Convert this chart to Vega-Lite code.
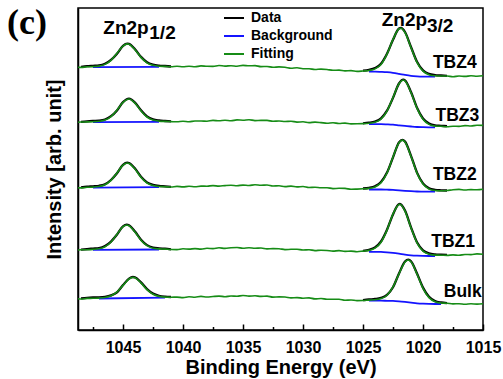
{
  "$schema": "https://vega.github.io/schema/vega-lite/v6.json",
  "width": 405,
  "height": 322,
  "autosize": {"type": "none"},
  "padding": {"left": 78, "top": 8, "right": 20, "bottom": 49},
  "background": "white",
  "config": {
    "view": {"stroke": "#000", "strokeWidth": 1.5},
    "font": "Liberation Sans",
    "axis": {"grid": false, "domainColor": "#000", "domainWidth": 1.5, "tickColor": "#000", "labelColor": "#000", "titleColor": "#000", "labelFont": "Liberation Sans", "titleFont": "Liberation Sans", "labelFontWeight": "bold", "titleFontWeight": "bold"},
    "legend": {"symbolType": "stroke", "symbolSize": 400, "symbolStrokeWidth": 2, "labelFontSize": 14, "labelFontWeight": "bold", "labelFont": "Liberation Sans", "labelColor": "#000", "labelOffset": 6, "rowPadding": 0, "padding": 0}
  },
  "datasets": {
    "fit": [
      {"e":1048.75,"TBZ4":262.8,"TBZ3":207.8,"TBZ2":142.3,"TBZ1":80.0,"Bulk":31.2},
      {"e":1048.5,"TBZ4":262.6,"TBZ3":208.0,"TBZ2":142.1,"TBZ1":80.2,"Bulk":31.0},
      {"e":1048,"TBZ4":263.2,"TBZ3":208.1,"TBZ2":142.7,"TBZ1":80.3,"Bulk":31.6},
      {"e":1047.5,"TBZ4":263.4,"TBZ3":208.3,"TBZ2":142.9,"TBZ1":80.6,"Bulk":31.7},
      {"e":1047,"TBZ4":263.9,"TBZ3":208.7,"TBZ2":143.5,"TBZ1":81.2,"Bulk":31.9},
      {"e":1046.5,"TBZ4":265.6,"TBZ3":209.9,"TBZ2":145.2,"TBZ1":83.3,"Bulk":32.5},
      {"e":1046,"TBZ4":269.7,"TBZ3":213.4,"TBZ2":149.6,"TBZ1":88.0,"Bulk":34.2},
      {"e":1045.5,"TBZ4":276.7,"TBZ3":220.0,"TBZ2":157.1,"TBZ1":95.8,"Bulk":38.1},
      {"e":1045,"TBZ4":283.9,"TBZ3":227.6,"TBZ2":164.8,"TBZ1":103.3,"Bulk":44.6},
      {"e":1044.69,"TBZ1":105.0},
      {"e":1044.64,"TBZ4":286.1,"TBZ2":167.0},
      {"e":1044.5,"TBZ4":285.7,"TBZ3":231.0,"TBZ2":166.6,"TBZ1":104.3,"Bulk":51.0},
      {"e":1044.17,"Bulk":52.7},
      {"e":1044,"TBZ4":280.3,"TBZ3":226.9,"TBZ2":160.9,"TBZ1":97.9,"Bulk":52.2},
      {"e":1043.5,"TBZ4":272.6,"TBZ3":219.2,"TBZ2":152.8,"TBZ1":89.8,"Bulk":47.1},
      {"e":1043,"TBZ4":267.2,"TBZ3":213.0,"TBZ2":147.0,"TBZ1":84.3,"Bulk":40.3},
      {"e":1042.5,"TBZ4":264.7,"TBZ3":209.9,"TBZ2":144.5,"TBZ1":81.8,"Bulk":35.7},
      {"e":1042,"TBZ4":263.8,"TBZ3":208.9,"TBZ2":143.5,"TBZ1":81.1,"Bulk":33.6},
      {"e":1041.5,"TBZ4":263.6,"TBZ3":208.6,"TBZ2":143.3,"TBZ1":80.9,"Bulk":32.9},
      {"e":1041,"TBZ4":263.3,"TBZ3":208.4,"TBZ2":143.0,"TBZ1":80.5,"Bulk":32.8},
      {"e":1040.5,"TBZ4":263.7,"TBZ3":208.2,"TBZ2":143.6,"TBZ1":80.4,"Bulk":32.9},
      {"e":1040,"TBZ4":263.2,"TBZ3":208.8,"TBZ2":143.1,"TBZ1":81.2,"Bulk":32.4},
      {"e":1039.5,"TBZ4":263.8,"TBZ3":208.2,"TBZ2":143.7,"TBZ1":80.9,"Bulk":33.2},
      {"e":1039,"TBZ4":263.2,"TBZ3":209.0,"TBZ2":143.2,"TBZ1":81.4,"Bulk":32.8},
      {"e":1038.5,"TBZ4":264.1,"TBZ3":209.0,"TBZ2":143.9,"TBZ1":80.9,"Bulk":33.6},
      {"e":1038,"TBZ4":263.7,"TBZ3":208.8,"TBZ2":143.8,"TBZ1":81.7,"Bulk":33.0},
      {"e":1037.5,"TBZ4":263.6,"TBZ3":209.6,"TBZ2":144.4,"TBZ1":81.4,"Bulk":33.5},
      {"e":1037,"TBZ4":264.5,"TBZ3":209.2,"TBZ2":143.9,"TBZ1":82.2,"Bulk":33.9},
      {"e":1036.5,"TBZ4":263.9,"TBZ3":209.7,"TBZ2":144.4,"TBZ1":81.6,"Bulk":33.3},
      {"e":1036,"TBZ4":264.3,"TBZ3":209.2,"TBZ2":144.7,"TBZ1":82.2,"Bulk":34.0},
      {"e":1035.5,"TBZ4":263.8,"TBZ3":210.1,"TBZ2":144.3,"TBZ1":82.5,"Bulk":33.8},
      {"e":1035,"TBZ4":264.6,"TBZ3":209.8,"TBZ2":144.9,"TBZ1":81.8,"Bulk":34.5},
      {"e":1034.5,"TBZ4":264.2,"TBZ3":210.3,"TBZ2":144.5,"TBZ1":82.2,"Bulk":33.9},
      {"e":1034,"TBZ4":264.4,"TBZ3":209.4,"TBZ2":145.3,"TBZ1":81.7,"Bulk":34.2},
      {"e":1033.5,"TBZ4":263.4,"TBZ3":209.6,"TBZ2":144.7,"TBZ1":82.0,"Bulk":33.6},
      {"e":1033,"TBZ4":263.5,"TBZ3":209.6,"TBZ2":145.0,"TBZ1":81.1,"Bulk":33.9},
      {"e":1032.5,"TBZ4":262.7,"TBZ3":208.7,"TBZ2":144.0,"TBZ1":81.4,"Bulk":32.9},
      {"e":1032,"TBZ4":263.1,"TBZ3":209.0,"TBZ2":144.2,"TBZ1":81.3,"Bulk":33.1},
      {"e":1031.5,"TBZ4":262.7,"TBZ3":208.5,"TBZ2":143.4,"TBZ1":80.4,"Bulk":33.0},
      {"e":1031,"TBZ4":261.8,"TBZ3":208.8,"TBZ2":143.9,"TBZ1":80.7,"Bulk":32.1},
      {"e":1030.5,"TBZ4":262.2,"TBZ3":207.9,"TBZ2":143.1,"TBZ1":80.8,"Bulk":32.4},
      {"e":1030,"TBZ4":261.3,"TBZ3":208.2,"TBZ2":143.5,"TBZ1":80.0,"Bulk":31.8},
      {"e":1029.5,"TBZ4":261.3,"TBZ3":207.4,"TBZ2":142.5,"TBZ1":80.3,"Bulk":32.1},
      {"e":1029,"TBZ4":260.5,"TBZ3":207.9,"TBZ2":142.7,"TBZ1":79.4,"Bulk":31.1},
      {"e":1028.5,"TBZ4":260.9,"TBZ3":207.4,"TBZ2":142.2,"TBZ1":79.8,"Bulk":31.5},
      {"e":1028,"TBZ4":260.5,"TBZ3":206.7,"TBZ2":142.3,"TBZ1":79.5,"Bulk":30.7},
      {"e":1027.5,"TBZ4":259.7,"TBZ3":207.2,"TBZ2":141.4,"TBZ1":78.9,"Bulk":30.7},
      {"e":1027,"TBZ4":259.9,"TBZ3":206.5,"TBZ2":141.7,"TBZ1":79.4,"Bulk":30.8},
      {"e":1026.5,"TBZ4":259.1,"TBZ3":206.9,"TBZ2":141.6,"TBZ1":78.6,"Bulk":29.8},
      {"e":1026,"TBZ4":259.4,"TBZ3":206.1,"TBZ2":140.7,"TBZ1":78.9,"Bulk":30.0},
      {"e":1025.5,"TBZ4":258.6,"TBZ3":206.2,"TBZ2":140.9,"TBZ1":78.3,"Bulk":29.4},
      {"e":1025,"TBZ4":259.0,"TBZ3":206.4,"TBZ2":141.2,"TBZ1":78.9,"Bulk":29.5},
      {"e":1024.5,"TBZ4":259.5,"TBZ3":206.7,"TBZ2":141.6,"TBZ1":79.6,"Bulk":29.9},
      {"e":1024,"TBZ4":261.1,"TBZ3":207.7,"TBZ2":143.0,"TBZ1":81.8,"Bulk":30.2},
      {"e":1023.5,"TBZ4":265.6,"TBZ3":210.9,"TBZ2":147.2,"TBZ1":87.8,"Bulk":31.4},
      {"e":1023,"TBZ4":275.9,"TBZ3":218.9,"TBZ2":157.0,"TBZ1":99.9,"Bulk":34.8},
      {"e":1022.5,"TBZ4":290.6,"TBZ3":232.5,"TBZ2":173.0,"TBZ1":116.0,"Bulk":43.1},
      {"e":1022,"TBZ4":301.2,"TBZ3":246.2,"TBZ2":187.3,"TBZ1":125.5,"Bulk":56.2},
      {"e":1021.92,"TBZ1":125.7},
      {"e":1021.83,"TBZ4":301.8},
      {"e":1021.72,"TBZ2":189.9},
      {"e":1021.64,"TBZ3":250.0},
      {"e":1021.5,"TBZ4":297.5,"TBZ3":249.1,"TBZ2":187.9,"TBZ1":118.9,"Bulk":68.0},
      {"e":1021.22,"Bulk":70.0},
      {"e":1021,"TBZ4":282.5,"TBZ3":237.5,"TBZ2":173.7,"TBZ1":102.2,"Bulk":68.2},
      {"e":1020.5,"TBZ4":267.7,"TBZ3":221.8,"TBZ2":156.9,"TBZ1":87.2,"Bulk":56.0},
      {"e":1020,"TBZ4":258.9,"TBZ3":210.8,"TBZ2":145.9,"TBZ1":78.9,"Bulk":41.7},
      {"e":1019.5,"TBZ4":255.3,"TBZ3":205.6,"TBZ2":141.0,"TBZ1":75.8,"Bulk":32.4},
      {"e":1019,"TBZ4":254.2,"TBZ3":203.9,"TBZ2":139.5,"TBZ1":74.9,"Bulk":28.3},
      {"e":1018.5,"TBZ4":254.0,"TBZ3":203.7,"TBZ2":139.2,"TBZ1":74.8,"Bulk":27.0},
      {"e":1018,"TBZ4":254.0,"TBZ3":203.3,"TBZ2":139.5,"TBZ1":74.6,"Bulk":26.8},
      {"e":1017.5,"TBZ4":253.3,"TBZ3":203.8,"TBZ2":140.3,"TBZ1":75.1,"Bulk":26.1},
      {"e":1017,"TBZ4":254.0,"TBZ3":203.6,"TBZ2":140.6,"TBZ1":74.7,"Bulk":26.3},
      {"e":1016.5,"TBZ4":253.6,"TBZ3":204.4,"TBZ2":140.0,"TBZ1":75.5,"Bulk":25.7},
      {"e":1016,"TBZ4":254.2,"TBZ3":204.0,"TBZ2":140.4,"TBZ1":75.4,"Bulk":26.2},
      {"e":1015.5,"TBZ4":253.8,"TBZ3":204.8,"TBZ2":140.2,"TBZ1":76.1,"Bulk":25.9},
      {"e":1015,"TBZ4":254.2,"TBZ3":204.6,"TBZ2":140.7,"TBZ1":75.8,"Bulk":26.2}
    ],
    "data": [
      {"e":1048.5,"g":"L","TBZ4":263.1,"TBZ3":208.1,"TBZ2":142.6,"TBZ1":80.3,"Bulk":31.6},
      {"e":1048,"g":"L","TBZ4":263.8,"TBZ3":208.7,"TBZ2":143.3,"TBZ1":80.9,"Bulk":32.2},
      {"e":1047.5,"g":"L","TBZ4":264.2,"TBZ3":209.1,"TBZ2":143.7,"TBZ1":81.4,"Bulk":32.5},
      {"e":1047,"g":"L","TBZ4":264.6,"TBZ3":209.4,"TBZ2":144.2,"TBZ1":81.9,"Bulk":32.6},
      {"e":1046.5,"g":"L","TBZ4":266.2,"TBZ3":210.5,"TBZ2":145.8,"TBZ1":83.9,"Bulk":33.1},
      {"e":1046,"g":"L","TBZ4":270.1,"TBZ3":213.8,"TBZ2":150.0,"TBZ1":88.4,"Bulk":34.6},
      {"e":1045.5,"g":"L","TBZ4":276.3,"TBZ3":219.6,"TBZ2":156.7,"TBZ1":95.4,"Bulk":37.7},
      {"e":1045,"g":"L","TBZ4":284.2,"TBZ3":227.9,"TBZ2":165.1,"TBZ1":103.6,"Bulk":44.9},
      {"e":1044.69,"g":"L","TBZ1":105.3},
      {"e":1044.64,"g":"L","TBZ4":286.4,"TBZ2":167.3},
      {"e":1044.5,"g":"L","TBZ4":286.1,"TBZ3":231.4,"TBZ2":167.0,"TBZ1":104.7,"Bulk":51.4},
      {"e":1044.17,"g":"L","Bulk":53.0},
      {"e":1044,"g":"L","TBZ4":280.8,"TBZ3":227.4,"TBZ2":161.4,"TBZ1":98.4,"Bulk":52.7},
      {"e":1043.5,"g":"L","TBZ4":273.1,"TBZ3":219.7,"TBZ2":153.3,"TBZ1":90.3,"Bulk":47.6},
      {"e":1043,"g":"L","TBZ4":267.8,"TBZ3":213.6,"TBZ2":147.6,"TBZ1":84.9,"Bulk":40.9},
      {"e":1042.5,"g":"L","TBZ4":265.4,"TBZ3":210.6,"TBZ2":145.2,"TBZ1":82.5,"Bulk":36.4},
      {"e":1042,"g":"L","TBZ4":264.4,"TBZ3":209.5,"TBZ2":144.1,"TBZ1":81.7,"Bulk":34.2},
      {"e":1041.5,"g":"L","TBZ4":264.0,"TBZ3":209.0,"TBZ2":143.7,"TBZ1":81.3,"Bulk":33.3},
      {"e":1041,"g":"L","TBZ4":263.5,"TBZ3":208.6,"TBZ2":143.2,"TBZ1":80.7,"Bulk":33.0},
      {"e":1025,"g":"R","TBZ4":259.3,"TBZ3":206.7,"TBZ2":141.5,"TBZ1":79.2,"Bulk":29.8},
      {"e":1024.5,"g":"R","TBZ4":260.1,"TBZ3":207.3,"TBZ2":142.2,"TBZ1":80.2,"Bulk":30.5},
      {"e":1024,"g":"R","TBZ4":261.9,"TBZ3":208.5,"TBZ2":143.8,"TBZ1":82.6,"Bulk":31.0},
      {"e":1023.5,"g":"R","TBZ4":266.3,"TBZ3":211.6,"TBZ2":147.9,"TBZ1":88.5,"Bulk":32.1},
      {"e":1023,"g":"R","TBZ4":276.3,"TBZ3":219.3,"TBZ2":157.4,"TBZ1":100.3,"Bulk":35.2},
      {"e":1022.5,"g":"R","TBZ4":290.2,"TBZ3":232.1,"TBZ2":172.6,"TBZ1":115.6,"Bulk":42.7},
      {"e":1022,"g":"R","TBZ4":301.5,"TBZ3":246.5,"TBZ2":187.6,"TBZ1":125.9,"Bulk":56.5},
      {"e":1021.92,"g":"R","TBZ1":126.0},
      {"e":1021.83,"g":"R","TBZ4":302.1},
      {"e":1021.72,"g":"R","TBZ2":190.2},
      {"e":1021.64,"g":"R","TBZ3":250.3},
      {"e":1021.5,"g":"R","TBZ4":298.0,"TBZ3":249.6,"TBZ2":188.4,"TBZ1":119.4,"Bulk":68.5},
      {"e":1021.22,"g":"R","Bulk":70.3},
      {"e":1021,"g":"R","TBZ4":283.0,"TBZ3":238.0,"TBZ2":174.2,"TBZ1":102.7,"Bulk":68.7},
      {"e":1020.5,"g":"R","TBZ4":268.2,"TBZ3":222.3,"TBZ2":157.4,"TBZ1":87.7,"Bulk":56.5},
      {"e":1020,"g":"R","TBZ4":259.6,"TBZ3":211.5,"TBZ2":146.6,"TBZ1":79.6,"Bulk":42.4},
      {"e":1019.5,"g":"R","TBZ4":256.1,"TBZ3":206.4,"TBZ2":141.8,"TBZ1":76.6,"Bulk":33.2},
      {"e":1019,"g":"R","TBZ4":254.9,"TBZ3":204.6,"TBZ2":140.2,"TBZ1":75.6,"Bulk":29.0},
      {"e":1018.5,"g":"R","TBZ4":254.5,"TBZ3":204.2,"TBZ2":139.7,"TBZ1":75.3,"Bulk":27.5},
      {"e":1018,"g":"R","TBZ4":254.1,"TBZ3":203.8,"TBZ2":139.5,"TBZ1":75.1,"Bulk":26.8}
    ],
    "bg": [
      {"e":1047.5,"g":"L","TBZ4":262.9,"TBZ3":207.9,"TBZ2":142.4,"TBZ1":80.1},
      {"e":1047,"g":"L","Bulk":31.5},
      {"e":1042,"g":"L","TBZ4":263.2,"TBZ3":208.2,"TBZ2":142.9,"TBZ1":80.5},
      {"e":1041.5,"g":"L","Bulk":32.4},
      {"e":1024.5,"g":"R","TBZ4":258.3,"TBZ3":205.8,"TBZ2":140.5,"TBZ1":78.2,"Bulk":29.3},
      {"e":1024,"g":"R","TBZ4":258.3,"TBZ3":205.8,"TBZ2":140.5,"TBZ1":78.2,"Bulk":29.3},
      {"e":1023.5,"g":"R","TBZ4":258.1,"TBZ3":205.8,"TBZ2":140.5,"TBZ1":78.1,"Bulk":29.3},
      {"e":1023,"g":"R","TBZ4":257.8,"TBZ3":205.6,"TBZ2":140.3,"TBZ1":77.7,"Bulk":29.2},
      {"e":1022.5,"g":"R","TBZ4":257.2,"TBZ3":205.3,"TBZ2":140.1,"TBZ1":77.1,"Bulk":29.1},
      {"e":1022,"g":"R","TBZ4":256.2,"TBZ3":204.7,"TBZ2":139.7,"TBZ1":76.3,"Bulk":28.7},
      {"e":1021.5,"g":"R","TBZ4":255.1,"TBZ3":204.1,"TBZ2":139.2,"TBZ1":75.4,"Bulk":28.1},
      {"e":1021,"g":"R","TBZ4":254.2,"TBZ3":203.5,"TBZ2":138.8,"TBZ1":74.7,"Bulk":27.4},
      {"e":1020.5,"g":"R","TBZ4":253.7,"TBZ3":203.0,"TBZ2":138.5,"TBZ1":74.3,"Bulk":26.7},
      {"e":1020,"g":"R","TBZ4":253.4,"TBZ3":202.8,"TBZ2":138.4,"TBZ1":74.1,"Bulk":26.3},
      {"e":1019.5,"g":"R","TBZ4":253.3,"TBZ3":202.7,"TBZ2":138.3,"TBZ1":74.0,"Bulk":26.1},
      {"e":1019,"g":"R","TBZ4":253.3,"TBZ3":202.7,"TBZ2":138.3,"TBZ1":74.0,"Bulk":26.0},
      {"e":1018.5,"g":"R","Bulk":26.0}
    ],
    "names": [
      {"e":1015.53,"v":261.7,"txt":"TBZ4"},
      {"e":1015.31,"v":209.3,"txt":"TBZ3"},
      {"e":1015.53,"v":150.0,"txt":"TBZ2"},
      {"e":1015.67,"v":83.3,"txt":"TBZ1"},
      {"e":1015.11,"v":33.3,"txt":"Bulk"}
    ],
    "peaks": [
      {"e":1046.64,"v":296.5,"txt":"Zn2p"},
      {"e":1042.81,"v":290.7,"txt":"1/2"},
      {"e":1023.44,"v":304.0,"txt":"Zn2p"},
      {"e":1019.67,"v":298.3,"txt":"3/2"}
    ],
    "panel": [
      {"e":1053.0,"v":296.5,"txt":"(c)"}
    ]
  },
  "encoding": {
    "x": {
      "field": "e", "type": "quantitative",
      "scale": {"domain": [1015, 1048.75], "reverse": true, "nice": false, "zero": false},
      "axis": {
        "title": "Binding Energy (eV)",
        "values": [1047.5, 1045, 1042.5, 1040, 1037.5, 1035, 1032.5, 1030, 1027.5, 1025, 1022.5, 1020, 1017.5, 1015],
        "labelExpr": "datum.value % 5 == 0 ? format(datum.value, 'd') : ''",
        "tickSize": {"condition": {"test": "datum.value % 5 == 0", "value": -6}, "value": -3.5},
        "tickWidth": 1.5,
        "labelFontSize": 16,
        "labelPadding": 15,
        "labelFlush": false,
        "labelOverlap": false,
        "titleFontSize": 20,
        "titlePadding": 0
      }
    },
    "y": {
      "field": "v", "type": "quantitative",
      "scale": {"domain": [0, 322], "nice": false, "zero": false},
      "axis": {"title": "Intensity [arb. unit]", "ticks": false, "labels": false, "titleFontSize": 20, "titlePadding": 14}
    }
  },
  "layer": [
    {
      "data": {"name": "data"},
      "transform": [{"fold": ["TBZ4", "TBZ3", "TBZ2", "TBZ1", "Bulk"], "as": ["s", "v"]}, {"filter": "isValid(datum.v)"}],
      "mark": {"type": "line", "strokeWidth": 2.3, "interpolate": "monotone"},
      "encoding": {
        "color": {"datum": "Data", "scale": {"domain": ["Data", "Background", "Fitting"], "range": ["#000000", "#1414ff", "#168c16"]}, "legend": {"orient": "none", "legendX": 145, "legendY": -1, "title": null}},
        "detail": [{"field": "s"}, {"field": "g"}]
      }
    },
    {
      "data": {"name": "bg"},
      "transform": [{"fold": ["TBZ4", "TBZ3", "TBZ2", "TBZ1", "Bulk"], "as": ["s", "v"]}, {"filter": "isValid(datum.v)"}],
      "mark": {"type": "line", "strokeWidth": 1.8, "interpolate": "monotone"},
      "encoding": {
        "color": {"datum": "Background", "scale": {"domain": ["Data", "Background", "Fitting"], "range": ["#000000", "#1414ff", "#168c16"]}, "legend": {"orient": "none", "legendX": 145, "legendY": -1, "title": null}},
        "detail": [{"field": "s"}, {"field": "g"}]
      }
    },
    {
      "data": {"name": "fit"},
      "transform": [{"fold": ["TBZ4", "TBZ3", "TBZ2", "TBZ1", "Bulk"], "as": ["s", "v"]}, {"filter": "isValid(datum.v)"}],
      "mark": {"type": "line", "strokeWidth": 1.6, "interpolate": "monotone"},
      "encoding": {
        "color": {"datum": "Fitting", "scale": {"domain": ["Data", "Background", "Fitting"], "range": ["#000000", "#1414ff", "#168c16"]}, "legend": {"orient": "none", "legendX": 145, "legendY": -1, "title": null}},
        "detail": {"field": "s"}
      }
    },
    {
      "data": {"name": "names"},
      "mark": {"type": "text", "align": "right", "baseline": "alphabetic", "font": "Liberation Sans", "fontWeight": "bold", "fontSize": 17.5, "color": "#000"},
      "encoding": {"text": {"field": "txt"}}
    },
    {
      "data": {"name": "peaks"},
      "mark": {"type": "text", "align": "left", "baseline": "alphabetic", "font": "Liberation Sans", "fontWeight": "bold", "fontSize": 19, "color": "#000"},
      "encoding": {"text": {"field": "txt"}}
    },
    {
      "data": {"name": "panel"},
      "mark": {"type": "text", "align": "center", "baseline": "alphabetic", "font": "Liberation Serif", "fontWeight": "bold", "fontSize": 36, "color": "#000"},
      "encoding": {"text": {"field": "txt"}}
    }
  ]
}
